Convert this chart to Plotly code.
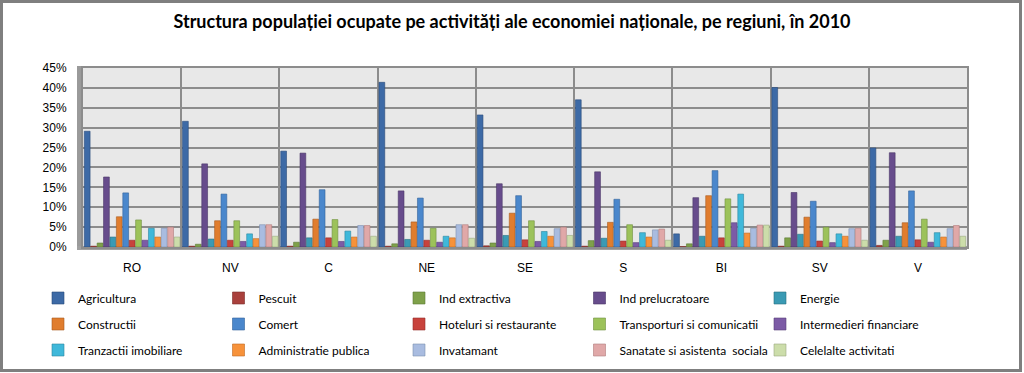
import plotly.graph_objects as go

regions = ["RO", "NV", "C", "NE", "SE", "S", "BI", "SV", "V"]

series_names = [
    "Agricultura", "Pescuit", "Ind extractiva", "Ind prelucratoare", "Energie",
    "Constructii", "Comert", "Hoteluri si restaurante", "Transporturi si comunicatii",
    "Intermedieri financiare", "Tranzactii imobiliare", "Administratie publica",
    "Invatamant", "Sanatate si asistenta  sociala", "Celelalte activitati",
]

agricultura = [29.1, 31.6, 24.1, 41.4, 33.2, 37.0, 3.3, 40.1, 24.9]
pescuit = [0.2, 0.2, 0.2, 0.2, 0.3, 0.2, 0.1, 0.2, 0.4]
ind_extractiva = [1.0, 0.7, 1.2, 0.8, 1.0, 1.6, 0.8, 2.3, 1.7]
ind_prelucratoare = [17.6, 20.9, 23.6, 14.1, 15.9, 18.9, 12.4, 13.7, 23.7]
energie = [2.5, 2.0, 2.3, 1.9, 2.9, 2.2, 2.7, 3.2, 2.7]
constructii = [7.6, 6.6, 7.0, 6.3, 8.5, 6.2, 12.9, 7.5, 6.1]
comert = [13.6, 13.3, 14.4, 12.3, 12.9, 12.0, 19.2, 11.5, 14.1]
hoteluri = [1.7, 1.7, 2.3, 1.7, 1.8, 1.5, 2.3, 1.5, 1.8]
transport = [6.8, 6.6, 6.9, 4.7, 6.6, 5.6, 12.1, 5.0, 7.0]
intermedieri = [1.7, 1.4, 1.4, 1.2, 1.4, 1.1, 6.1, 1.1, 1.2]
tranzactii = [4.7, 3.3, 4.0, 2.7, 3.9, 3.6, 13.3, 3.3, 3.6]
administratie = [2.5, 2.1, 2.5, 2.3, 2.7, 2.5, 3.5, 2.7, 2.5]
invatamant = [4.7, 5.6, 5.4, 5.6, 4.6, 4.3, 4.7, 4.6, 4.6]
sanatate = [5.0, 5.6, 5.4, 5.6, 5.0, 4.5, 5.5, 4.7, 5.4]
celelalte = [2.5, 2.7, 2.7, 2.2, 2.9, 1.7, 5.5, 1.7, 2.7]

series_values = [
    agricultura, pescuit, ind_extractiva, ind_prelucratoare, energie,
    constructii, comert, hoteluri, transport, intermedieri,
    tranzactii, administratie, invatamant, sanatate, celelalte,
]

colors = [
    "#3D6AA6", "#A9403C", "#7FA14A", "#674C8C", "#3A9AB4",
    "#E07D2E", "#4A87CC", "#C8423C", "#9CC25A", "#7C5BA6",
    "#3FB8DA", "#F7923A", "#A9BCE0", "#E0A8A8", "#CCDDAA",
]
line_colors = [
    "#2A4C7A", "#7A2B28", "#5A7834", "#4A3566", "#286F82",
    "#A85A1E", "#32639A", "#932E2A", "#71913F", "#58407A",
    "#2B879F", "#C06A24", "#7E90B0", "#B07C7C", "#9AAA80",
]

x_pos = list(range(len(regions)))

fig = go.Figure()
legend_ids = ["legend", "legend2", "legend3"]
for i, (name, vals) in enumerate(zip(series_names, series_values)):
    fig.add_trace(go.Bar(
        x=x_pos, y=vals, name=name,
        marker=dict(color=colors[i], line=dict(color=line_colors[i], width=0.6)),
        legend=legend_ids[i // 5],
        hovertemplate="%{y}%<extra>" + name + "</extra>",
    ))

W, H = 1024, 373
L, R, T, B = 83, 57, 68, 126
pw, ph = W - L - R, H - T - B

def px_x(px):
    return (px - L) / pw

def px_y(py):
    return (H - B - py) / ph

legend_common = dict(
    orientation="h", xref="paper", yref="paper",
    xanchor="left", yanchor="middle",
    entrywidth=135.5, entrywidthmode="pixels",
    font=dict(family="Lato", size=12, color="#000000"),
    bgcolor="rgba(0,0,0,0)", borderwidth=0, traceorder="normal",
)
legend_rows_y = [298, 324, 350]
legend_x = 38

fig.update_layout(
    width=W, height=H,
    margin=dict(l=L, r=R, t=T, b=B, autoexpand=False),
    paper_bgcolor="#FFFFFF",
    plot_bgcolor="#E8E8E8",
    barmode="group", bargap=0.02, bargroupgap=0.1,
    title=dict(
        text="Structura populației ocupate pe activități ale economiei naționale, pe regiuni, în 2010",
        x=0.5, xanchor="center", xref="container",
        y=1 - 22 / H, yanchor="middle", yref="container",
        font=dict(family="Lato", size=18, color="#000000", weight="bold"),
    ),
    legend=dict(legend_common, x=px_x(legend_x), y=px_y(legend_rows_y[0])),
    legend2=dict(legend_common, x=px_x(legend_x), y=px_y(legend_rows_y[1])),
    legend3=dict(legend_common, x=px_x(legend_x), y=px_y(legend_rows_y[2])),
    xaxis=dict(
        range=[-0.5, len(regions) - 0.5],
        tickvals=x_pos, ticktext=regions,
        showgrid=False, zeroline=False,
        showline=True, linecolor="#8C8C8C", linewidth=2, mirror=True,
        ticks="", ticklabelstandoff=9,
        tickfont=dict(family="Liberation Sans", size=12, color="#000000"),
        minor=dict(tick0=0.5, dtick=1, showgrid=True, gridcolor="#8C8C8C", gridwidth=2, ticks=""),
    ),
    yaxis=dict(
        range=[0, 45], dtick=5, ticksuffix="%",
        showgrid=True, gridcolor="#8C8C8C", gridwidth=2,
        zeroline=False,
        showline=True, linecolor="#8C8C8C", linewidth=2, mirror=True,
        ticks="", ticklabelstandoff=12,
        tickfont=dict(family="Liberation Sans", size=12, color="#000000"),
    ),
    shapes=[
        dict(type="rect", xref="paper", yref="paper",
             x0=px_x(77), x1=px_x(83), y0=px_y(250), y1=px_y(66),
             fillcolor="#9A9A9A", line=dict(width=0), layer="below"),
        dict(type="rect", xref="paper", yref="paper",
             x0=px_x(77), x1=px_x(967), y0=px_y(250), y1=px_y(246),
             fillcolor="#A0A0A0", line=dict(width=0), layer="below"),
        dict(type="rect", xref="paper", yref="paper",
             x0=px_x(1.5), x1=px_x(1020.5), y0=px_y(370.5), y1=px_y(1.5),
             fillcolor="rgba(0,0,0,0)", line=dict(color="#7F7F7F", width=3)),
    ],
)

fig.write_html(
    "out.html",
    config={"displayModeBar": False},
    post_script="document.body.style.margin='0';document.body.style.overflow='hidden';",
)
